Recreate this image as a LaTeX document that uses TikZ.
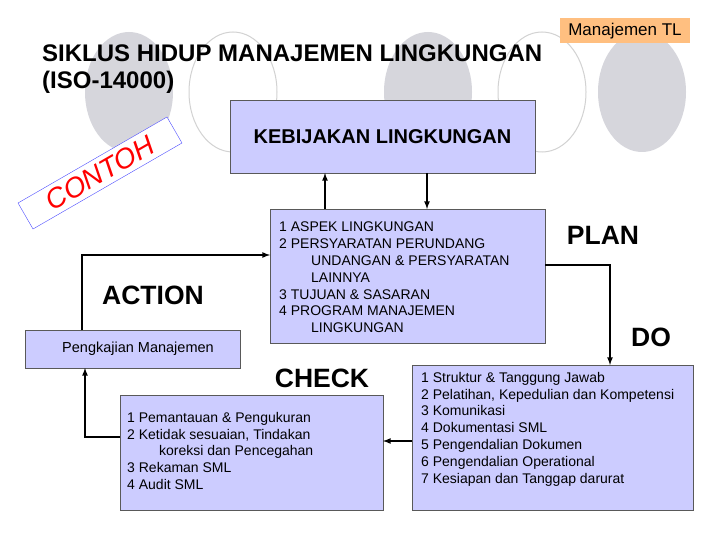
\documentclass[tikz,border=0pt]{standalone}
\usepackage{fontspec}
\setmainfont{Liberation Sans}
\begin{document}
\begin{tikzpicture}[x=1pt,y=-1pt,
  box/.style={draw=gray!70!black,fill=blue!20,line width=0.8pt},
  arr/.style={-latex,line width=1.6pt},
  txt/.style={font=\fontsize{14}{16.8}\selectfont,align=left,anchor=north west,inner sep=0},
  big/.style={font=\bfseries\fontsize{26.5}{28}\selectfont}]
\useasboundingbox (0,0) rectangle (720,540);
\fill[white] (0,0) rectangle (720,540);
\fill[blue!8!gray!30] (129,92) ellipse (44 and 60);
\draw[gray!35,line width=1pt] (233,92) ellipse (44 and 60);
\fill[blue!8!gray!30] (428,92) ellipse (44 and 60);
\draw[gray!35,line width=1pt] (542,92) ellipse (44 and 60);
\fill[blue!8!gray!30] (642,92) ellipse (44 and 60);
\node[fill=orange!50,font=\fontsize{17}{18}\selectfont,inner sep=2pt,minimum width=130pt,minimum height=25pt] (tl) at (625,31) {Manajemen TL};
\node[anchor=west,align=left,font=\bfseries\fontsize{24}{27}\selectfont,inner sep=0] (title) at (42,69) {SIKLUS HIDUP MANAJEMEN LINGKUNGAN\\(ISO-14000)};
\node[draw=blue!70,fill=white,rotate=30,text=red,font=\fontsize{28}{29}\selectfont\itshape,minimum width=172pt,minimum height=30pt,inner sep=0pt] (contoh) at (100,173) {CONTOH};
\draw[box] (230,100) rectangle (535,173);
\node[font=\bfseries\fontsize{20}{22}\selectfont] (keb) at (382.5,137) {KEBIJAKAN LINGKUNGAN};
\coordinate (kb1) at (325,173); \coordinate (kb2) at (427,173);
\draw[box] (270,209) rectangle (545,343);
\node[txt] (p) at (279,222) {1 ASPEK LINGKUNGAN\\2 PERSYARATAN PERUNDANG\\\hspace{32pt}UNDANGAN \& PERSYARATAN\\\hspace{32pt}LAINNYA\\3 TUJUAN \& SASARAN\\4 PROGRAM MANAJEMEN\\\hspace{32pt}LINGKUNGAN};
\coordinate (pb1) at (325,209); \coordinate (pb2) at (427,209);
\coordinate (pr) at (545,265); \coordinate (pl) at (270,255);
\draw[box] (412,365) rectangle (693,510);
\node[txt] (d) at (421,372) {1 Struktur \& Tanggung Jawab\\2 Pelatihan, Kepedulian dan Kompetensi\\3 Komunikasi\\4 Dokumentasi SML\\5 Pengendalian Dokumen\\6 Pengendalian Operational\\7 Kesiapan dan Tanggap darurat};
\draw[box] (120,395) rectangle (383,510);
\node[txt] (c) at (127,412) {1 Pemantauan \& Pengukuran\\2 Ketidak sesuaian, Tindakan\\\hspace{32pt}koreksi dan Pencegahan\\3 Rekaman SML\\4 Audit SML};
\draw[box] (25,330) rectangle (240,368);
\node[font=\fontsize{14.5}{16}\selectfont] (pm) at (138,349) {Pengkajian Manajemen};
\node[big] (plan) at (603,235) {PLAN};
\node[big] (do) at (651,337) {DO};
\node[big] (action) at (153,295) {ACTION};
\node[big] (check) at (322,378) {CHECK};
\draw[arr] (pb1) -- (kb1);
\draw[arr] (kb2) -- (pb2);
\draw[arr] (pr) -| (610,365);
\draw[arr] (412,441) -- (383,441);
\draw[arr] (120,437) -| (85,368);
\draw[arr] (82,330) |- (pl);
\end{tikzpicture}
\end{document}
